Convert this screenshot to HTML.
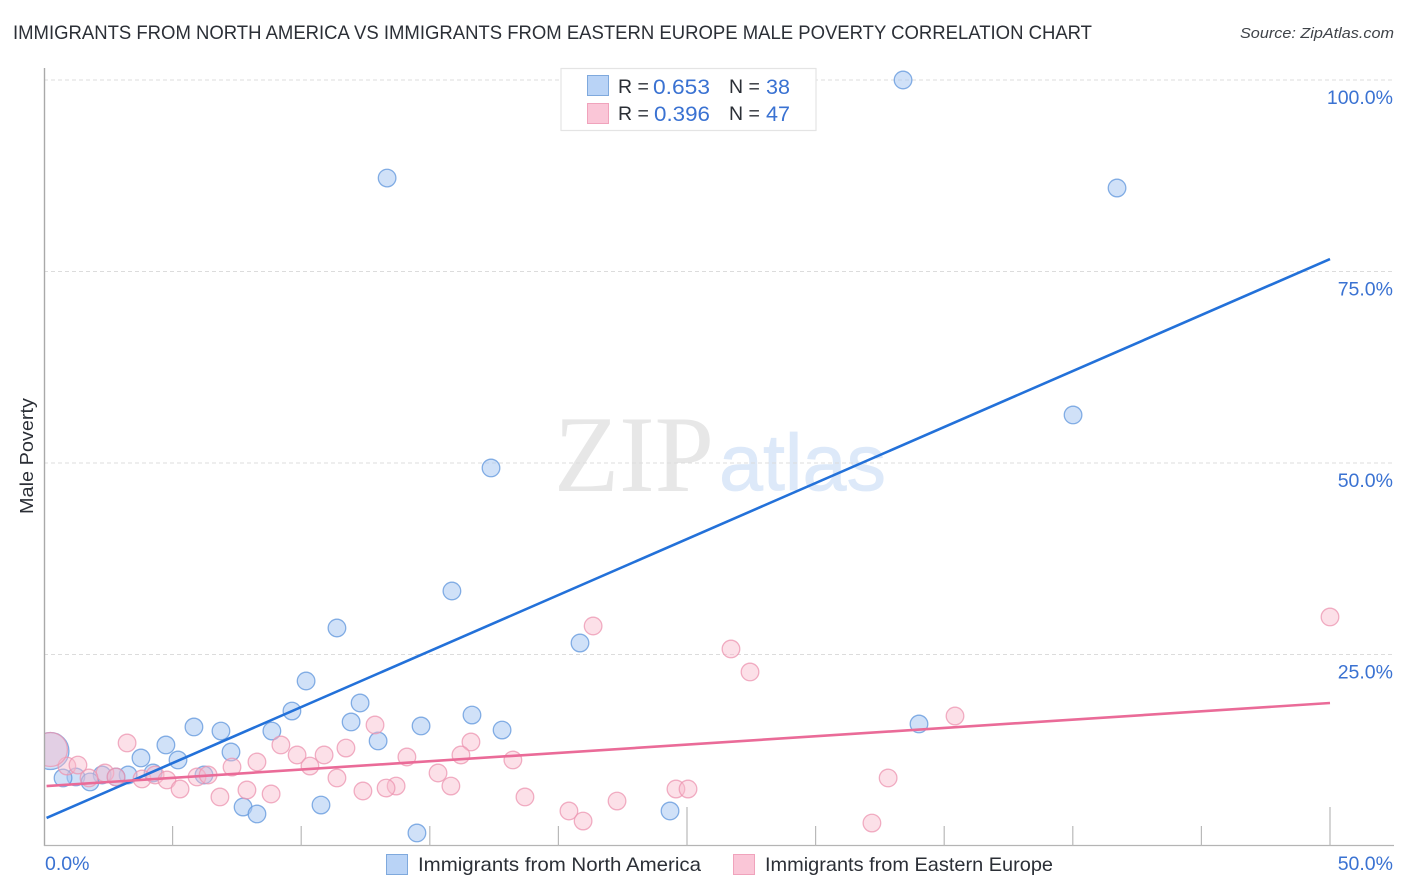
<!DOCTYPE html>
<html lang="en">
<head>
<meta charset="utf-8">
<title>Male Poverty Correlation Chart</title>
<style>
html,body{margin:0;padding:0;background:#fff;}
svg{display:block;font-family:"Liberation Sans",sans-serif;}
</style>
</head>
<body>
<svg id="chart" xmlns="http://www.w3.org/2000/svg" width="1406" height="892" viewBox="0 0 1406 892">
  <rect x="0" y="0" width="1406" height="892" fill="#ffffff"/>

  <g id="watermark">
    <text x="554" y="491" font-family="'Liberation Serif',serif" font-size="109" fill="#e7e7e7" textLength="160" lengthAdjust="spacingAndGlyphs">ZIP</text>
    <text x="719" y="490" font-size="80" fill="#dde9f9" stroke="#dde9f9" stroke-width="0.8" textLength="167" lengthAdjust="spacingAndGlyphs">atlas</text>
  </g>

  <g id="grid"></g>
  <g id="points"></g>
  <rect x="0" y="60" width="44" height="790" fill="#ffffff"/>
  <g id="axes"></g>
  <g id="trends"></g>
  <g id="labels"></g>

  <text x="13" y="39" font-size="19.5" fill="#2b2f36" textLength="1079" lengthAdjust="spacingAndGlyphs">IMMIGRANTS FROM NORTH AMERICA VS IMMIGRANTS FROM EASTERN EUROPE MALE POVERTY CORRELATION CHART</text>
  <text x="1394" y="38" font-size="15" font-style="italic" text-anchor="end" fill="#3f4349" textLength="154" lengthAdjust="spacingAndGlyphs">Source: ZipAtlas.com</text>
  <text transform="translate(33,456) rotate(-90)" font-size="18.5" text-anchor="middle" fill="#2b2f36" textLength="116" lengthAdjust="spacingAndGlyphs">Male Poverty</text>

  <g>
    <rect x="561" y="68.5" width="255" height="62" fill="#ffffff" stroke="#e4e4e4" stroke-width="1.2"/>
    <rect x="587.5" y="75.5" width="21" height="20" fill="#b9d3f6" stroke="#7fa9dd" stroke-width="1"/>
    <rect x="587.5" y="103.5" width="21" height="20" fill="#fac6d7" stroke="#f0a3bc" stroke-width="1"/>
    <text x="618" y="93" font-size="19.5" fill="#2b2f36">R =</text>
    <text x="653" y="94" font-size="21" fill="#3a72d2" textLength="57" lengthAdjust="spacingAndGlyphs">0.653</text>
    <text x="729" y="93" font-size="19.5" fill="#2b2f36">N =</text>
    <text x="766" y="94" font-size="21" fill="#3a72d2" textLength="24" lengthAdjust="spacingAndGlyphs">38</text>
    <text x="618" y="120" font-size="19.5" fill="#2b2f36">R =</text>
    <text x="654" y="121" font-size="21" fill="#3a72d2" textLength="56" lengthAdjust="spacingAndGlyphs">0.396</text>
    <text x="729" y="120" font-size="19.5" fill="#2b2f36">N =</text>
    <text x="766" y="121" font-size="21" fill="#3a72d2" textLength="24" lengthAdjust="spacingAndGlyphs">47</text>
  </g>

  <g>
    <g>
      <rect x="386.5" y="854.5" width="21" height="20" fill="#b9d3f6" stroke="#7fa9dd" stroke-width="1"/>
      <text x="418" y="871" font-size="19.5" fill="#2b2f36" textLength="283" lengthAdjust="spacingAndGlyphs">Immigrants from North America</text>
    </g>
    <g>
      <rect x="733.5" y="854.5" width="21" height="20" fill="#fac6d7" stroke="#f0a3bc" stroke-width="1"/>
      <text x="765" y="871" font-size="19.5" fill="#2b2f36" textLength="288" lengthAdjust="spacingAndGlyphs">Immigrants from Eastern Europe</text>
    </g>
  </g>
</svg>
<script>
const blueX = [33.40,13.34,41.72,40.01,17.38,15.86,11.39,20.84,10.19,12.29,9.64,16.64,11.94,6.88,5.83,8.86,14.66,17.81,34.02,12.99,7.27,4.74,3.77,5.21,3.27,4.24,6.22,2.26,2.80,1.24,0.74,1.79,7.74,8.28,10.77,24.34,14.50,0.25];
const blueY = [100.0,87.2,85.9,56.27,49.35,33.29,28.46,26.50,21.54,18.67,17.62,17.10,16.19,15.01,15.54,15.01,15.67,15.14,15.93,13.71,12.27,13.19,11.49,11.23,9.27,9.53,9.27,9.27,9.01,9.01,8.88,8.36,5.09,4.18,5.35,4.57,1.70,12.4];
const pinkX = [50.0,21.35,26.71,27.45,35.42,12.87,3.23,16.60,9.21,11.74,9.84,10.89,16.21,14.11,18.23,8.28,7.31,10.34,0.89,1.32,2.37,1.75,2.80,3.81,4.32,4.78,5.95,6.38,5.29,6.84,7.89,8.83,11.39,15.32,15.82,13.69,13.30,12.40,18.70,22.28,20.41,20.96,24.57,25.04,32.82,32.19,0.25];
const pinkY = [29.90,28.72,25.72,22.72,16.97,15.80,13.45,13.58,13.19,12.79,11.88,11.88,11.88,11.62,11.23,10.97,10.31,10.44,10.44,10.57,9.53,8.88,9.01,8.75,9.27,8.62,9.01,9.27,7.44,6.40,7.31,6.79,8.88,9.53,7.83,7.83,7.57,7.18,6.40,5.87,4.57,3.26,7.44,7.44,8.88,3.00,12.6];
const blueTrendX = [0.1,50];
const blueTrendY = [3.66,76.63];
const pinkTrendX = [0.1,50];
const pinkTrendY = [7.83,18.67];
const yTicks = [25,50,75,100];
const yTickLabels = ["25.0%","50.0%","75.0%","100.0%"];
const xTicks = [5,10,15,20,25,30,35,40,45,50];
const xMajorTicks = [25,50];
const xEdgeValues = [0,50];
const xEdgeLabels = ["0.0%","50.0%"];

const SVGNS = "http://www.w3.org/2000/svg";
function sx(v){ return 44 + v * 25.72; }
function sy(v){ return 846 - v * 7.66; }
function mk(tag, parent){
  const el = document.createElementNS(SVGNS, tag);
  parent.appendChild(el);
  return el;
}
const grid = document.getElementById("grid");
const axes = document.getElementById("axes");
const points = document.getElementById("points");
const trends = document.getElementById("trends");
const labels = document.getElementById("labels");

yTicks.forEach(function(t, i){
  const line = mk("line", grid);
  
  
  line.setAttribute("x1", 44);
  line.setAttribute("x2", 1394);
  line.setAttribute("y1", sy(t));
  line.setAttribute("y2", sy(t));
  line.setAttribute("stroke", "#dcdcdc");
  line.setAttribute("stroke-width", "1");
  line.setAttribute("stroke-dasharray", "4 3");
  const label = mk("text", labels);
  
  
  label.setAttribute("x", 1393);
  label.setAttribute("y", sy(t) + 24);
  label.setAttribute("font-size", "19.5");
  label.setAttribute("text-anchor", "end");
  label.setAttribute("fill", "#3a72d2");
  label.textContent = yTickLabels[i];
});

const yAxis = mk("line", axes);


yAxis.setAttribute("x1", 44.5);
yAxis.setAttribute("x2", 44.5);
yAxis.setAttribute("y1", 68);
yAxis.setAttribute("y2", 846);
yAxis.setAttribute("stroke", "#a9a9a9");
yAxis.setAttribute("stroke-width", "1.4");

const xAxis = mk("line", axes);


xAxis.setAttribute("x1", 44);
xAxis.setAttribute("x2", 1394);
xAxis.setAttribute("y1", 845.5);
xAxis.setAttribute("y2", 845.5);
xAxis.setAttribute("stroke", "#b4b4b4");
xAxis.setAttribute("stroke-width", "1.2");

xTicks.forEach(function(t){
  const tick = mk("line", axes);
  
  
  const major = xMajorTicks.indexOf(t) >= 0;
  tick.setAttribute("x1", sx(t));
  tick.setAttribute("x2", sx(t));
  tick.setAttribute("y1", major ? 807 : 826);
  tick.setAttribute("y2", 846);
  tick.setAttribute("stroke", "#b9b9b9");
  tick.setAttribute("stroke-width", "1.2");
});

xEdgeValues.forEach(function(v, i){
  const label = mk("text", labels);
  
  
  label.setAttribute("x", i === 0 ? sx(v) + 1 : 1393);
  label.setAttribute("y", 870);
  label.setAttribute("font-size", "19.5");
  label.setAttribute("text-anchor", i === 0 ? "start" : "end");
  label.setAttribute("fill", "#3a72d2");
  label.textContent = xEdgeLabels[i];
});

function drawPoints(xs, ys, fill, stroke, opacity, bigR){
  xs.forEach(function(x, i){
    const c = mk("circle", points);
    
    
    c.setAttribute("cx", sx(x));
    c.setAttribute("cy", sy(ys[i]));
    c.setAttribute("r", i === xs.length - 1 ? bigR : 8.8);
    c.setAttribute("fill", fill);
    c.setAttribute("fill-opacity", opacity);
    c.setAttribute("stroke", stroke);
    c.setAttribute("stroke-opacity", "0.75");
    c.setAttribute("stroke-width", "1.3");
  });
}
drawPoints(blueX, blueY, "#a9c9f2", "#5f96dc", "0.55", 18.5);
drawPoints(pinkX, pinkY, "#f8bacd", "#ec94b0", "0.45", 17);

function drawTrend(xs, ys, color){
  const l = mk("line", trends);
  
  
  l.setAttribute("x1", sx(xs[0]));
  l.setAttribute("y1", sy(ys[0]));
  l.setAttribute("x2", sx(xs[1]));
  l.setAttribute("y2", sy(ys[1]));
  l.setAttribute("stroke", color);
  l.setAttribute("stroke-width", "2.6");
}
drawTrend(blueTrendX, blueTrendY, "#2371d9");
drawTrend(pinkTrendX, pinkTrendY, "#ea6b98");
</script>
</body>
</html>
